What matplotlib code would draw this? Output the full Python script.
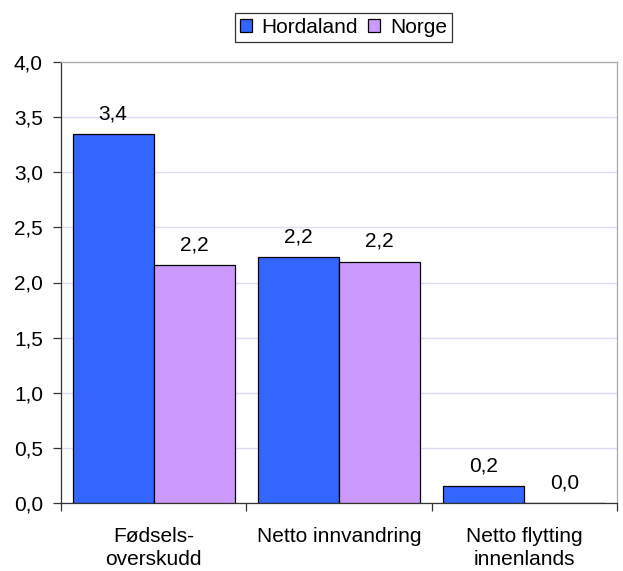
import matplotlib
matplotlib.use("Agg")
import matplotlib.pyplot as plt
import numpy as np

categories = ["Fødsels-\noverskudd", "Netto innvandring", "Netto flytting\ninnenlands"]
series_names = ["Hordaland", "Norge"]
hordaland = [3.35, 2.23, 0.157]
norge = [2.16, 2.19, 0.0]
y_ticks = [0.0, 0.5, 1.0, 1.5, 2.0, 2.5, 3.0, 3.5, 4.0]
colors = ["#3366FF", "#CC99FF"]

plt.rcParams['font.family'] = ['Liberation Sans', 'DejaVu Sans']

W, H = 623, 571
fig = plt.figure(figsize=(W / 100, H / 100), dpi=100)
ax = fig.add_axes([61 / W, 1 - 503 / H, (617 - 61) / W, (503 - 62) / H])

x = np.arange(len(categories))
bw = 0.437
fs = 15
b1 = ax.bar(x - bw / 2, hordaland, bw, color=colors[0], edgecolor="black", linewidth=0.9, label=series_names[0], zorder=3)
b2 = ax.bar(x + bw / 2, norge, bw, color=colors[1], edgecolor="black", linewidth=0.9, label=series_names[1], zorder=3)

for bars, vals in ((b1, hordaland), (b2, norge)):
    for r, v in zip(bars, vals):
        ax.annotate(f"{v:.1f}".replace(".", ","), (r.get_x() + r.get_width() / 2, v),
                    xytext=(0, 14.5), textcoords="offset points", ha="center", va="center", fontsize=fs)

ax.set_xlim(-0.5, len(categories) - 0.5)
ax.set_ylim(0, 4.0)
ax.set_yticks(y_ticks)
ax.set_yticklabels([f"{t:.1f}".replace(".", ",") for t in y_ticks], fontsize=fs)
ax.yaxis.grid(True, color="#DCDCF4", linewidth=1.0, zorder=0)
ax.set_axisbelow(True)

ax.set_xticks(x)
ax.set_xticklabels(categories, fontsize=fs, linespacing=1.3)
ax.tick_params(axis="x", which="major", length=0, pad=17)
ax.set_xticks(np.arange(len(categories) + 1) - 0.5, minor=True)
ax.tick_params(axis="x", which="minor", length=6, width=0.9, color="#333333", direction="out")
ax.tick_params(axis="y", length=6, width=0.9, color="#333333", direction="out", pad=7)

for s in ("left", "bottom"):
    ax.spines[s].set_color("#333333")
    ax.spines[s].set_linewidth(0.9)
for s in ("top", "right"):
    ax.spines[s].set_color("#A8A8A8")
    ax.spines[s].set_linewidth(0.9)

leg = ax.legend(loc="upper center", bbox_to_anchor=(0.508, 1 + (62 - 13) / (503 - 62)), ncol=2,
                fontsize=fs, frameon=True, fancybox=False, edgecolor="black",
                handlelength=0.57, handleheight=0.57, handletextpad=0.48, columnspacing=0.48,
                borderpad=0.25, borderaxespad=0)
leg.get_frame().set_linewidth(0.9)

fig.savefig("out.png", dpi=100)
